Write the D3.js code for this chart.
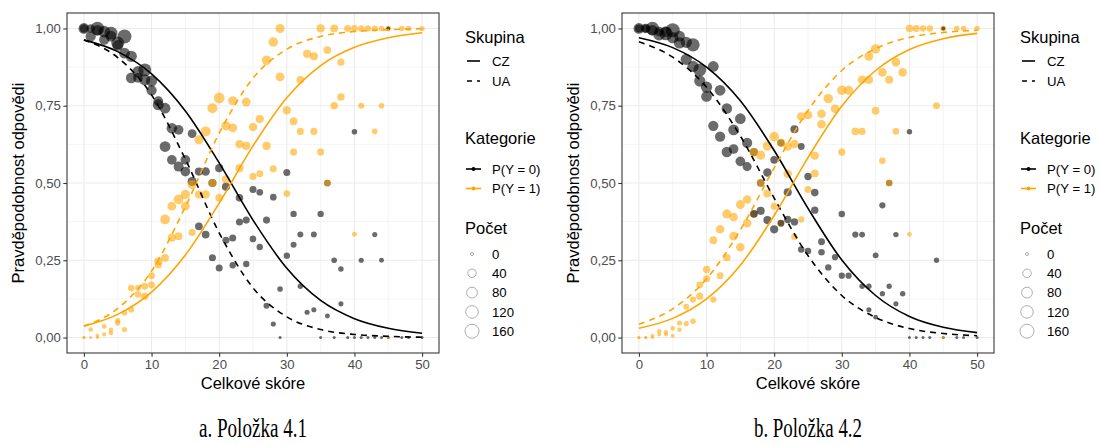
<!DOCTYPE html>
<meta charset="utf-8">
<title>Položka 4.1 a 4.2</title>
<style>
body { margin: 0; background: #fff; }
svg text { font-family: "Liberation Sans", Arial, sans-serif; }
.grid-major { stroke: #EBEBEB; stroke-width: 1.07; }
.grid-minor { stroke: #EBEBEB; stroke-width: 0.53; }
.axis text { fill: #4D4D4D; font-size: 13.2px; }
.axis line { stroke: #333; stroke-width: 1.07; }
.axis .domain { display: none; }
</style>
<svg width="1100" height="445"></svg>
<script src="https://d3js.org/d3.v7.min.js"></script>
<script>

// ---- data ----
var scoreTicks = [0, 10, 20, 30, 40, 50];
var scoreMinor = [5, 15, 25, 35, 45];
var probTicks = [0, 0.25, 0.5, 0.75, 1];
var probMinor = [0.125, 0.375, 0.625, 0.875];
var probLabels = ["0,00", "0,25", "0,50", "0,75", "1,00"];
var groups = ["CZ", "UA"];
var categories = ["P(Y = 0)", "P(Y = 1)"];
var countBreaks = [0, 40, 80, 120, 160];

var curveScores = [0, 5, 10, 15, 20, 25, 30, 35, 40, 45, 50];
var a_czP0 = [0.963, 0.925, 0.853, 0.733, 0.565, 0.380, 0.224, 0.120, 0.061, 0.030, 0.014];
var a_uaP0 = [0.963, 0.906, 0.785, 0.577, 0.339, 0.161, 0.067, 0.026, 0.010, 0.004, 0.001];
var a_czP1 = [0.037, 0.075, 0.147, 0.267, 0.435, 0.620, 0.776, 0.880, 0.939, 0.970, 0.986];
var a_uaP1 = [0.037, 0.094, 0.215, 0.423, 0.661, 0.839, 0.933, 0.974, 0.990, 0.996, 0.999];
var b_czP0 = [0.970, 0.938, 0.875, 0.766, 0.605, 0.418, 0.251, 0.136, 0.068, 0.033, 0.016];
var b_uaP0 = [0.957, 0.907, 0.810, 0.652, 0.451, 0.265, 0.136, 0.065, 0.029, 0.013, 0.006];
var b_czP1 = [0.030, 0.062, 0.125, 0.234, 0.395, 0.582, 0.749, 0.864, 0.932, 0.967, 0.984];
var b_uaP1 = [0.043, 0.093, 0.190, 0.348, 0.549, 0.735, 0.864, 0.935, 0.971, 0.987, 0.994];

// observed points: score, share answering 0, count answering 0, count answering 1
var a_score = [0,0,1,1,2,2,3,3,4,4,5,5,6,6,7,7,8,8,9,9,10,10,11,11,12,12,13,13,14,14,15,15,16,16,17,17,18,18,19,19,20,20,
  21,21,22,22,23,23,24,24,25,25,26,26,27,27,28,28,29,29,30,30,31,31,32,32,33,34,34,35,35,36,36,37,37,38,38,39,40,40,41,41,42,43,43,44,44,45,45,47,48,50];
var a_p0 = [1,1,0.974,1,1,0.994,0.99,0.964,0.985,0.975,0.953,0.945,0.974,0.92,0.91,0.84,0.86,0.84,0.866,0.834,0.83,0.80,
  0.753,0.765,0.742,0.618,0.677,0.575,0.672,0.553,0.575,0.537,0.66,0.505,0.537,0.36,0.537,0.333,0.5,0.258,0.548,0.225,
  0.488,0.315,0.322,0.234,0.452,0.374,0.38,0.238,0.479,0.319,0.47,0.293,0.38,0.103,0.454,0.044,0.157,0,0.534,0.265,
  0.40,0.30,0.333,0.166,0.082,0.333,0.09,0.40,0,0.5,0.07,0.25,0,0.222,0.109,0,0.666,0,0.25,0,0,0.333,0,0.25,0,0,1,0,0,0];
var a_n0 = [80,40,70,40,150,80,100,70,130,80,130,80,160,80,90,80,90,60,130,90,90,70,85,60,80,80,75,60,60,65,60,60,45,50,35,30,40,30,35,22,35,22,
  35,22,22,15,28,22,22,15,22,18,18,15,22,12,18,6,9,0,22,15,15,12,12,8,6,12,6,15,0,18,5,9,0,8,6,0,9,0,6,0,0,6,0,5,0,0,1,0,0,0];
var a_n1 = [0,0,3,0,0,1,2,4,3,3,8,6,6,9,12,18,18,12,26,20,20,20,32,22,30,60,36,45,30,60,45,50,22,50,32,50,38,65,36,65,30,80,
  36,50,45,50,36,36,36,45,22,36,20,36,36,55,22,55,45,50,18,36,22,30,22,30,36,22,36,22,36,18,30,26,30,26,22,22,5,18,12,15,15,9,12,9,9,9,0,8,8,6];

var b_score = [0,0,1,1,2,2,3,3,4,4,5,5,6,6,7,7,8,8,9,9,10,10,11,11,12,12,13,13,14,14,15,15,16,16,17,17,18,18,19,19,20,20,
  21,21,22,22,23,23,24,24,25,25,26,26,27,27,28,29,30,30,31,32,33,33,34,34,35,35,36,36,37,37,38,38,39,40,40,41,42,43,44,45,45,47,48,50];
var b_p0 = [1,1,1,1,1,0.994,0.98,0.99,0.983,0.99,0.994,0.97,0.953,0.975,0.955,0.90,0.947,0.877,0.866,0.83,0.81,0.78,
  0.877,0.685,0.80,0.65,0.741,0.60,0.672,0.61,0.708,0.57,0.63,0.553,0.60,0.40,0.41,0.5,0.534,0.38,0.575,0.35,
  0.63,0.37,0.47,0.382,0.674,0.374,0.618,0.285,0.521,0.28,0.469,0.412,0.31,0.276,0.227,0.26,0.40,0.2,0.2,0.333,0.333,0.166,
  0.166,0.09,0.266,0.066,0.428,0.142,0.5,0.166,0.333,0.109,0.142,0.666,0,0,0,0,0.25,0,1,0,0,0];
var b_n0 = [80,35,55,35,140,80,100,55,140,80,160,90,90,80,90,90,140,90,130,90,90,80,80,70,80,70,75,75,80,60,80,60,70,50,35,28,35,28,40,35,30,35,
  25,20,35,25,35,25,20,16,25,16,28,25,20,16,16,14,16,14,14,14,11,8,8,6,11,4,14,7,16,7,8,6,8,8,0,0,0,0,7,0,1,0,0,0];
var b_n1 = [0,0,0,0,0,1,3,1,3,1,1,4,6,3,6,11,8,14,22,20,22,25,14,30,20,40,28,50,42,40,40,48,42,40,25,42,50,28,36,55,22,60,
  14,35,40,42,17,42,14,42,22,42,30,35,42,42,55,42,25,55,48,28,22,42,42,48,30,55,17,42,17,35,17,42,42,4,28,20,16,16,20,11,0,8,8,7];

// ---- drawing ----
var svg = d3.select("svg");
var orange = "#FFA500";

var size = d3.scaleSqrt().domain([0, 160]).range([1.5, 7]);

function drawPanel(dx, sc, p0, n0, n1, czP0, uaP0, czP1, uaP1, caption) {
  var left = 67 + dx, right = 439 + dx, top = 13, bottom = 353;
  var x = d3.scaleLinear().domain([-2.5, 52.5]).range([left, right]);
  var y = d3.scaleLinear().domain([-0.05, 1.05]).range([bottom, top]);
  var g = svg.append("g");

  // grid
  g.selectAll(".gxm").data(scoreMinor).enter().append("line").attr("class", "grid-minor")
    .attr("x1", d => x(d)).attr("x2", d => x(d)).attr("y1", top).attr("y2", bottom);
  g.selectAll(".gym").data(probMinor).enter().append("line").attr("class", "grid-minor")
    .attr("x1", left).attr("x2", right).attr("y1", d => y(d)).attr("y2", d => y(d));
  g.selectAll(".gx").data(scoreTicks).enter().append("line").attr("class", "grid-major")
    .attr("x1", d => x(d)).attr("x2", d => x(d)).attr("y1", top).attr("y2", bottom);
  g.selectAll(".gy").data(probTicks).enter().append("line").attr("class", "grid-major")
    .attr("x1", left).attr("x2", right).attr("y1", d => y(d)).attr("y2", d => y(d));

  // points
  var pts = [];
  for (var i = 0; i < sc.length; i++) {
    pts.push({s: sc[i], p: p0[i], n: n0[i], c: "#000"});
    pts.push({s: sc[i], p: 1 - p0[i], n: n1[i], c: orange});
  }
  g.selectAll(".pt").data(pts).enter().append("circle")
    .attr("cx", d => x(d.s)).attr("cy", d => y(d.p)).attr("r", d => size(d.n))
    .attr("fill", d => d.c).attr("fill-opacity", 0.58);

  // fitted curves
  var line = d3.line().x((d, i) => x(curveScores[i])).y(d => y(d)).curve(d3.curveMonotoneX);
  var curves = [
    {v: czP0, c: "#000", dash: null}, {v: uaP0, c: "#000", dash: "6,5"},
    {v: czP1, c: orange, dash: null}, {v: uaP1, c: orange, dash: "6,5"}
  ];
  curves.forEach(function(cv) {
    g.append("path").datum(cv.v).attr("d", line).attr("fill", "none")
      .attr("stroke", cv.c).attr("stroke-width", 1.6)
      .attr("stroke-dasharray", cv.dash);
  });

  // border
  g.append("rect").attr("x", left).attr("y", top).attr("width", right - left).attr("height", bottom - top)
    .attr("fill", "none").attr("stroke", "#333").attr("stroke-width", 1.07);

  // axes
  g.append("g").attr("class", "axis").attr("transform", "translate(0," + bottom + ")")
    .call(d3.axisBottom(x).tickValues(scoreTicks).tickSize(3.7).tickPadding(3));
  g.append("g").attr("class", "axis").attr("transform", "translate(" + left + ",0)")
    .call(d3.axisLeft(y).tickValues(probTicks).tickSize(3.7).tickPadding(2.5)
      .tickFormat((d, i) => probLabels[i]));

  g.append("text").attr("x", (left + right) / 2).attr("y", 389).attr("text-anchor", "middle")
    .style("font-size", "16.5px").text("Celkové skóre");
  g.append("text").attr("transform", "translate(" + (24 + dx) + "," + ((top + bottom) / 2) + ") rotate(-90)")
    .attr("text-anchor", "middle").style("font-size", "16.5px").text("Pravděpodobnost odpovědi");

  // caption
  g.append("text").attr("x", (left + right) / 2).attr("y", 437).attr("text-anchor", "middle")
    .style("font-family", "'Liberation Serif', serif").style("font-size", "27px")
    .attr("textLength", 108).attr("lengthAdjust", "spacingAndGlyphs").text(caption);

  drawLegend(465 + dx);
}

function drawLegend(lx) {
  var g = svg.append("g");
  var title = function(t, yy) {
    g.append("text").attr("x", lx).attr("y", yy).attr("dy", "0.35em").style("font-size", "16.5px").text(t);
  };
  var label = function(t, yy) {
    g.append("text").attr("x", lx + 27).attr("y", yy).attr("dy", "0.35em").style("font-size", "13.2px").text(t);
  };

  title("Skupina", 37);
  groups.forEach(function(gr, i) {
    var yy = 61 + i * 20;
    g.append("line").attr("x1", lx + 2).attr("x2", lx + 15).attr("y1", yy).attr("y2", yy)
      .attr("stroke", "#000").attr("stroke-width", 1.6).attr("stroke-dasharray", i ? "5,5" : null);
    label(gr, yy);
  });

  title("Kategorie", 138);
  categories.forEach(function(c, i) {
    var yy = 169 + i * 19.5;
    var col = i ? orange : "#000";
    g.append("line").attr("x1", lx + 1).attr("x2", lx + 16).attr("y1", yy).attr("y2", yy)
      .attr("stroke", col).attr("stroke-width", 1.6);
    g.append("circle").attr("cx", lx + 8.5).attr("cy", yy).attr("r", 2).attr("fill", col);
    label(c, yy);
  });

  title("Počet", 228);
  countBreaks.forEach(function(n, i) {
    var yy = 254 + i * 19.3;
    g.append("circle").attr("cx", lx + 7).attr("cy", yy).attr("r", size(n))
      .attr("fill", "none").attr("stroke", "#999").attr("stroke-width", 0.8);
    label(n, yy);
  });
}

drawPanel(0, a_score, a_p0, a_n0, a_n1, a_czP0, a_uaP0, a_czP1, a_uaP1, "a. Položka 4.1");
drawPanel(555, b_score, b_p0, b_n0, b_n1, b_czP0, b_uaP0, b_czP1, b_uaP1, "b. Položka 4.2");

</script>
